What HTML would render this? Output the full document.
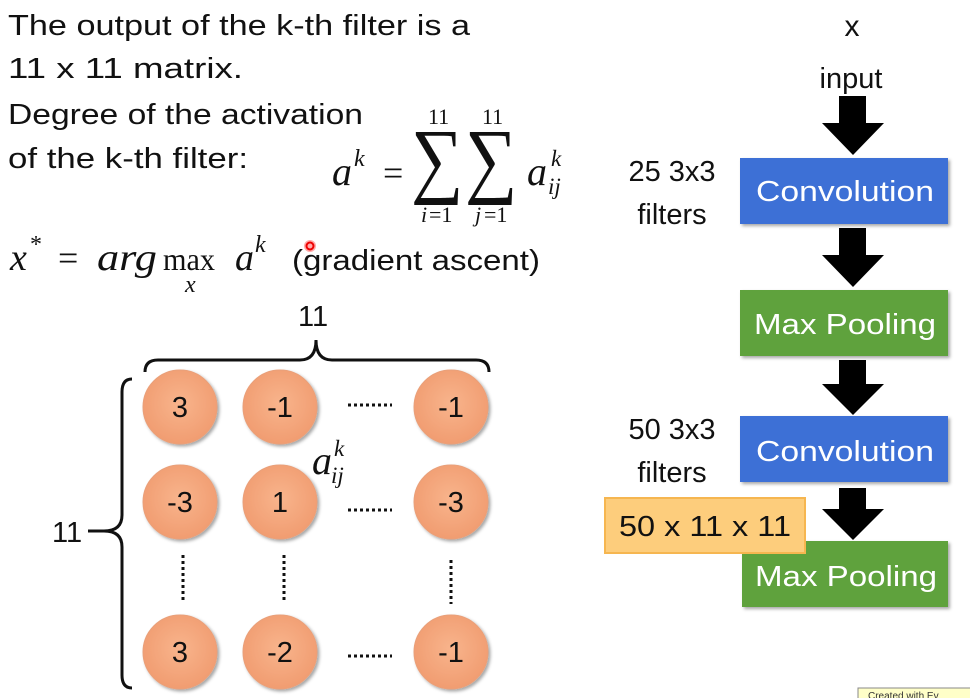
<!DOCTYPE html>
<html><head><meta charset="utf-8"><style>
body{margin:0;background:#fff;}
svg{display:block;font-family:"Liberation Sans",sans-serif;}
.t{font-size:29px;fill:#111;}
.m{font-family:"Liberation Serif",serif;font-style:italic;fill:#111;}
.s{font-family:"Liberation Serif",serif;fill:#111;}
</style></head><body>
<svg width="970" height="698" viewBox="0 0 970 698">
<defs>
<radialGradient id="g" cx="50%" cy="45%" r="60%"><stop offset="0" stop-color="#f8b48c"/><stop offset="1" stop-color="#f09a6e"/></radialGradient>
<filter id="s"><feDropShadow dx="2" dy="2" stdDeviation="1.5" flood-opacity="0.35"/></filter>
</defs>
<text class="t" x="8" y="35" textLength="462" lengthAdjust="spacingAndGlyphs">The output of the k-th filter is a</text>
<text class="t" x="8" y="78" textLength="235" lengthAdjust="spacingAndGlyphs">11 x 11 matrix.</text>
<text class="t" x="8" y="124" textLength="355" lengthAdjust="spacingAndGlyphs">Degree of the activation</text>
<text class="t" x="8" y="168" textLength="240" lengthAdjust="spacingAndGlyphs">of the k-th filter:</text>
<!-- sum formula -->
<text class="m" x="332" y="185" font-size="40">a</text>
<text class="m" x="354" y="166" font-size="24">k</text>
<text class="s" x="383" y="185" font-size="36">=</text>
<text class="s" transform="translate(411,187) scale(1.05,1.2)" font-size="70">∑</text>
<text class="s" transform="translate(465,187) scale(1.05,1.2)" font-size="70">∑</text>
<text class="s" x="428" y="124" font-size="22">11</text>
<text class="s" x="482" y="124" font-size="22">11</text>
<text class="m" x="421" y="222" font-size="22">i</text><text class="s" x="429" y="222" font-size="22">=1</text>
<text class="m" x="475" y="222" font-size="22">j</text><text class="s" x="484" y="222" font-size="22">=1</text>
<text class="m" x="527" y="185" font-size="40">a</text>
<text class="m" x="551" y="166" font-size="23">k</text>
<text class="m" x="548" y="194" font-size="23">ij</text>
<!-- argmax -->
<text class="m" x="10" y="270" font-size="38">x</text>
<text class="s" x="30" y="252" font-size="24">*</text>
<text class="s" x="58" y="270" font-size="36">=</text>
<text class="m" x="97" y="270" font-size="38" textLength="60" lengthAdjust="spacingAndGlyphs">arg</text>
<text class="s" x="163" y="270" font-size="32" textLength="52" lengthAdjust="spacingAndGlyphs">max</text>
<text class="m" x="185" y="292" font-size="24">x</text>
<text class="m" x="235" y="270" font-size="38">a</text>
<text class="m" x="255" y="252" font-size="24">k</text>
<text class="t" x="292" y="270" textLength="248" lengthAdjust="spacingAndGlyphs">(gradient ascent)</text>
<circle cx="310" cy="246" r="6" fill="#f55" opacity="0.5"/><circle cx="310" cy="246" r="3.5" fill="none" stroke="#e00" stroke-width="2"/>
<!-- braces -->
<text class="t" x="298" y="326">11</text>
<path d="M145 372 Q145 360 158 360 L300 360 Q316 360 316 340 Q316 360 332 360 L476 360 Q489 360 489 372" fill="none" stroke="#111" stroke-width="3"/>
<text class="t" x="52" y="542">11</text>
<path d="M132 379 Q122 379 122 392 L122 515 Q122 531 104 531 L88 531 M104 531 Q122 531 122 547 L122 675 Q122 688 132 688" fill="none" stroke="#111" stroke-width="3"/>
<!-- circles -->
<g filter="url(#s)" fill="url(#g)" stroke="#e9a07a" stroke-width="1">
<circle cx="180" cy="407" r="37"/><circle cx="280" cy="407" r="37"/><circle cx="451" cy="407" r="37"/>
<circle cx="180" cy="502" r="37"/><circle cx="280" cy="502" r="37"/><circle cx="451" cy="502" r="37"/>
<circle cx="180" cy="652" r="37"/><circle cx="280" cy="652" r="37"/><circle cx="451" cy="652" r="37"/>
</g>
<g class="t" text-anchor="middle" font-size="28">
<text x="180" y="417">3</text><text x="280" y="417">-1</text><text x="451" y="417">-1</text>
<text x="180" y="512">-3</text><text x="280" y="512">1</text><text x="451" y="512">-3</text>
<text x="180" y="662">3</text><text x="280" y="662">-2</text><text x="451" y="662">-1</text>
</g>
<g stroke="#111" stroke-width="3" stroke-dasharray="3 3">
<line x1="348" y1="405" x2="392" y2="405"/><line x1="348" y1="510" x2="392" y2="510"/><line x1="348" y1="656" x2="392" y2="656"/>
<line x1="183" y1="555" x2="183" y2="601"/><line x1="284" y1="555" x2="284" y2="601"/><line x1="451" y1="560" x2="451" y2="604"/>
</g>
<text class="m" x="312" y="474" font-size="40">a</text>
<text class="m" x="334" y="456" font-size="23">k</text>
<text class="m" x="331" y="483" font-size="23">ij</text>
<!-- right column -->
<text x="852" y="36" font-size="30" text-anchor="middle" fill="#111">x</text>
<text x="851" y="88" font-size="29" text-anchor="middle" fill="#111">input</text>
<g fill="#000">
<path d="M839 96h27v27h18l-31 32-31-32h17z"/>
<path d="M839 228h27v27h18l-31 32-31-32h17z"/>
<path d="M839 360h27v24h18l-31 31-31-31h17z"/>
<path d="M839 488h27v21h18l-31 31-31-31h17z"/>
</g>
<g filter="url(#s)">
<rect x="740" y="158" width="208" height="66" fill="#3e6fd6"/>
<rect x="740" y="290" width="208" height="66" fill="#5ea23c"/>
<rect x="740" y="416" width="208" height="66" fill="#3e6fd6"/>
<rect x="742" y="541" width="206" height="66" fill="#5ea23c"/>
</g>
<g fill="#fff" font-size="29" text-anchor="middle">
<text x="845" y="201" textLength="178" lengthAdjust="spacingAndGlyphs">Convolution</text>
<text x="845" y="334" textLength="182" lengthAdjust="spacingAndGlyphs">Max Pooling</text>
<text x="845" y="461" textLength="178" lengthAdjust="spacingAndGlyphs">Convolution</text>
<text x="846" y="586" textLength="182" lengthAdjust="spacingAndGlyphs">Max Pooling</text>
</g>
<g class="t" text-anchor="middle" font-size="28">
<text x="672" y="181">25 3x3</text><text x="672" y="224">filters</text>
<text x="672" y="439">50 3x3</text><text x="672" y="482">filters</text>
</g>
<rect x="605" y="498" width="200" height="55" fill="#fdcd7c" stroke="#f6b650" stroke-width="2"/>
<text class="t" x="705" y="536" text-anchor="middle" font-size="28" textLength="172" lengthAdjust="spacingAndGlyphs">50 x 11 x 11</text>
<rect x="858" y="688" width="120" height="20" fill="#ffffc8" stroke="#888"/>
<text x="868" y="699" font-size="10" fill="#333">Created with Ev</text>
</svg>
</body></html>
